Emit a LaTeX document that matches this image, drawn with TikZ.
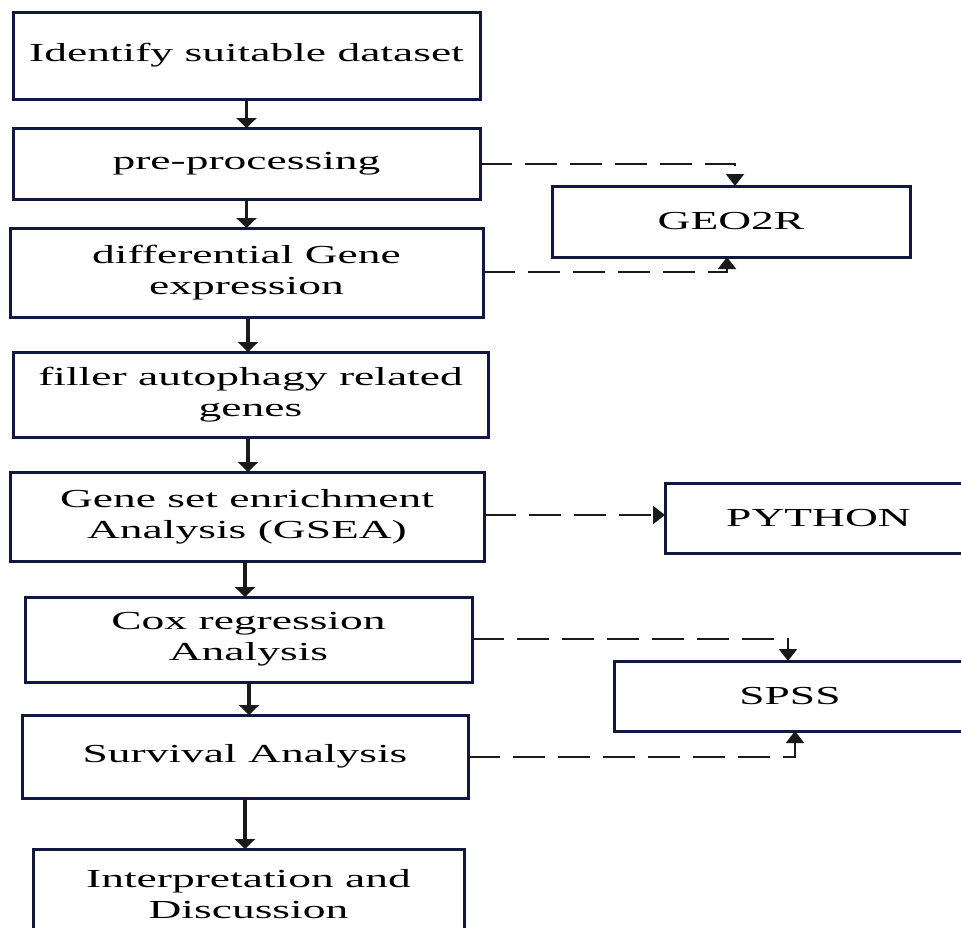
\documentclass[tikz,border=0pt]{standalone}
\usepackage{fontspec}
\setmainfont{Liberation Serif}[FakeStretch=1.75]
\usetikzlibrary{arrows.meta}
\definecolor{boxc}{HTML}{12173F}
\definecolor{arrc}{HTML}{1A1A1A}
\begin{document}
\begin{tikzpicture}[x=1pt,y=-1pt,
  stepbox/.style={draw=boxc, line width=3pt, inner sep=0pt, outer sep=0pt, align=center,
    font=\fontsize{26}{31}\selectfont, text=black},
  solidarr/.style={draw=arrc, line width=3.5pt, -{Triangle[width=20pt,length=10pt]}},
  dasharr/.style={draw=arrc, line width=2pt, dash pattern=on 32pt off 13pt, -{Triangle[width=18pt,length=12pt]}}]
\useasboundingbox (0,0) rectangle (961,927);
\clip (0,0) rectangle (961,927);
\node[stepbox, minimum width=467pt, minimum height=87pt] (b1) at (246.5,55.5) {Identify suitable dataset};
\node[stepbox, minimum width=467pt, minimum height=71pt] (b2) at (246.5,163.5) {pre-processing};
\node[stepbox, minimum width=473pt, minimum height=89pt] (b3) at (246.5,272.5) {differential Gene\\expression};
\node[stepbox, minimum width=475pt, minimum height=85pt] (b4) at (250.5,394.5) {filler autophagy related\\genes};
\node[stepbox, minimum width=474pt, minimum height=89pt] (b5) at (247,516.5) {Gene set enrichment\\Analysis (GSEA)};
\node[stepbox, minimum width=447pt, minimum height=85pt] (b6) at (248.5,639.5) {Cox regression\\Analysis};
\node[stepbox, minimum width=446pt, minimum height=83pt] (b7) at (245,756.5) {Survival Analysis};
\node[stepbox, minimum width=431pt, minimum height=90pt] (b8) at (248.5,894) {Interpretation and\\Discussion};
\node[stepbox, minimum width=358pt, minimum height=71pt] (geo) at (731,221.5) {GEO2R};
\node[stepbox, minimum width=307pt, minimum height=70pt] (py) at (818.5,518) {PYTHON};
\node[stepbox, minimum width=352pt, minimum height=70pt] (spss) at (790,696) {SPSS};
% main flow
\draw[solidarr] (b1.south) -- (b1.south |- b2.north);
\draw[solidarr] (b2.south) -- (b2.south |- b3.north);
\draw[solidarr] ([xshift=1.5pt]b3.south) -- ([xshift=1.5pt]b3.south |- b4.north);
\draw[solidarr] ([xshift=-2.5pt]b4.south) -- ([xshift=-2.5pt]b4.south |- b5.north);
\draw[solidarr] ([xshift=-2pt]b5.south) -- ([xshift=-2pt]b5.south |- b6.north);
\draw[solidarr] ([xshift=0.5pt]b6.south) -- ([xshift=0.5pt]b6.south |- b7.north);
\draw[solidarr] (b7.south) -- (b7.south |- b8.north);
% tool connectors
\draw[dasharr] (b2.east) -| ([xshift=4pt]geo.north);
\draw[dasharr] ([yshift=0.5pt]b3.east) -| ([xshift=-4pt]geo.south);
\draw[dasharr] ([yshift=1.5pt]b5.east) -- ([yshift=1.5pt]b5.east -| py.west);
\draw[dasharr] ([yshift=0.5pt]b6.east) -| ([xshift=-2pt]spss.north);
\draw[dasharr] (b7.east) -| ([xshift=5pt]spss.south);
\end{tikzpicture}
\end{document}
